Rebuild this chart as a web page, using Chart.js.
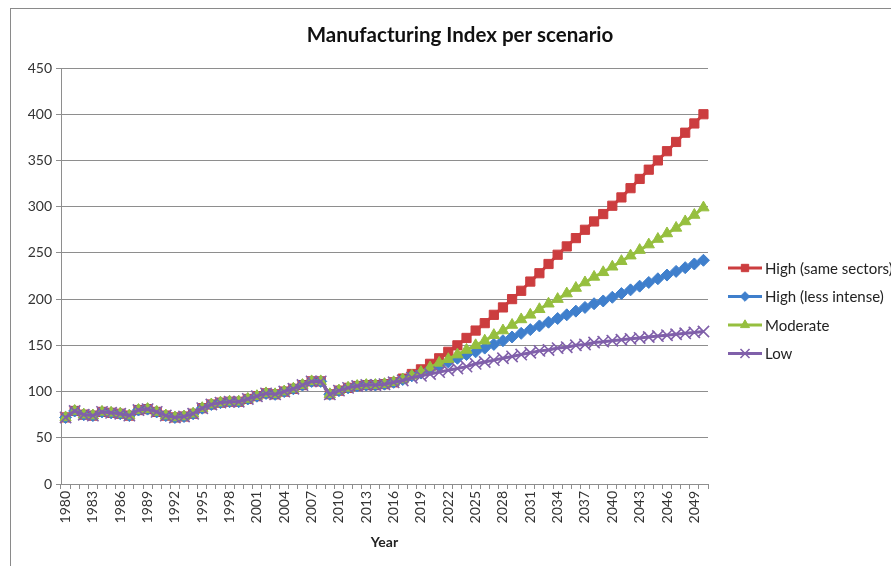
<!DOCTYPE html>
<html>
<head>
<meta charset="utf-8">
<script src="https://cdn.jsdelivr.net/npm/chart.js@4.4.0/dist/chart.umd.min.js"></script>
<style>
html, body { margin: 0; padding: 0; background: #fff; }
#wrap { position: relative; width: 891px; height: 566px; overflow: hidden; }
#frame { position: absolute; left: 10px; top: 8px; width: 900px; height: 600px; border: 1px solid #8a8a8a; box-sizing: border-box; }
canvas { position: absolute; left: 0; top: 0; }
</style>
</head>
<body>
<div id="wrap"><div id="frame"></div><canvas id="myChart" width="891" height="566"></canvas></div>
<script>
let years = ['1980', '1981', '1982', '1983', '1984', '1985', '1986', '1987', '1988', '1989',
    '1990', '1991', '1992', '1993', '1994', '1995', '1996', '1997', '1998', '1999',
    '2000', '2001', '2002', '2003', '2004', '2005', '2006', '2007', '2008', '2009',
    '2010', '2011', '2012', '2013', '2014', '2015', '2016', '2017', '2018', '2019',
    '2020', '2021', '2022', '2023', '2024', '2025', '2026', '2027', '2028', '2029',
    '2030', '2031', '2032', '2033', '2034', '2035', '2036', '2037', '2038', '2039',
    '2040', '2041', '2042', '2043', '2044', '2045', '2046', '2047', '2048', '2049', '2050'];

// 1980 - 2016, common to all scenarios
let history = [72, 79, 75, 74, 78, 77, 76, 74, 80, 81, 78, 74, 72, 73, 76, 82, 86, 88, 89, 89,
    92, 95, 98, 97, 100, 103, 107, 111, 111, 97, 101, 104, 106, 107, 107, 108, 110];

// 2017 - 2050
let highSame = [114, 119, 124, 130, 136, 143, 150, 158, 166, 174, 183, 191, 200, 209, 219, 228, 238,
    248, 257, 266, 275, 284, 292, 301, 310, 320, 330, 340, 350, 360, 370, 380, 390, 400];
let highLess = [113, 117, 120, 124, 128, 132, 136, 140, 143, 147, 151, 155, 159, 163, 167, 171, 175,
    179, 183, 187, 191, 195, 198, 202, 206, 210, 214, 218, 222, 226, 230, 234, 238, 242];
let moderate = [113, 117, 121, 126, 131, 135, 140, 145, 150, 155, 161, 166, 172, 178, 183, 189, 195,
    200, 206, 212, 218, 224, 229, 235, 241, 247, 253, 259, 265, 271, 277, 284, 291, 299];
let low = [112, 115, 117, 119, 121, 123, 125, 127, 130, 132, 134, 136, 138, 140, 142, 144, 145,
    147, 148, 150, 151, 153, 154, 155, 156, 157, 158, 159, 160, 161, 162, 163, 164, 165];

let seriesLabels = ['High (same sectors)', 'High (less intense)', 'Moderate', 'Low'];
let colors = ['#CC3D3F', '#3F7FCC', '#96BF3F', '#8060AA'];
let chartTitle = 'Manufacturing Index per scenario';

const FONT = 'Lato, "Open Sans", sans-serif';
const GRID = '#8e8e8e';

function makeSet(i, values, style, radius, bw) {
    return {
        label: seriesLabels[i],
        data: history.concat(values),
        borderColor: colors[i],
        backgroundColor: colors[i],
        borderWidth: 3,
        pointStyle: style,
        pointRadius: radius,
        pointBorderWidth: bw,
        pointBackgroundColor: colors[i],
        pointBorderColor: colors[i],
        tension: 0,
        order: 4 - i
    };
}

// title over the whole frame and legend on the right (line with marker, like the office chart)
const sideParts = {
    id: 'sideParts',
    afterDraw(chart) {
        const ctx = chart.ctx;
        ctx.save();
        ctx.fillStyle = '#111';
        ctx.font = 'bold 20.5px ' + FONT;
        ctx.textAlign = 'center';
        ctx.textBaseline = 'middle';
        ctx.fillText(chartTitle, 460, 35);
        ctx.restore();

        const x0 = chart.chartArea.right + 20;
        let y = chart.chartArea.top + 200;
        chart.data.datasets.forEach(ds => {
            ctx.save();
            ctx.strokeStyle = ds.borderColor;
            ctx.lineWidth = 3;
            ctx.beginPath();
            ctx.moveTo(x0, y);
            ctx.lineTo(x0 + 34, y);
            ctx.stroke();
            ctx.fillStyle = ds.pointBackgroundColor;
            ctx.strokeStyle = ds.pointBorderColor;
            ctx.lineWidth = ds.pointBorderWidth;
            Chart.helpers.drawPoint(ctx, {
                pointStyle: ds.pointStyle,
                radius: ds.pointRadius * 0.8,
                rotation: 0,
                borderWidth: ds.pointBorderWidth
            }, x0 + 17, y);
            ctx.fillStyle = '#222';
            ctx.font = '15px ' + FONT;
            ctx.textBaseline = 'middle';
            ctx.fillText(ds.label, x0 + 37, y + 1);
            ctx.restore();
            y += 28.5;
        });
    }
};

let ctx = document.getElementById('myChart').getContext('2d');

let chart = new Chart(ctx, {
    type: 'line',
    data: {
        labels: years,
        datasets: [
            makeSet(0, highSame, 'rect', 6.5, 1),
            makeSet(1, highLess, 'rectRot', 6, 1),
            makeSet(2, moderate, 'triangle', 6.5, 1),
            makeSet(3, low, 'crossRot', 8, 1.6)
        ]
    },
    options: {
        responsive: false,
        devicePixelRatio: 1,
        animation: false,
        layout: { padding: { left: 12, right: 183, top: 68, bottom: 0 } },
        plugins: {
            legend: { display: false },
            tooltip: { enabled: false },
            title: { display: false }
        },
        scales: {
            x: {
                type: 'category',
                offset: true,
                ticks: {
                    autoSkip: false,
                    minRotation: 90,
                    maxRotation: 90,
                    padding: 2,
                    color: '#333',
                    font: { family: FONT, size: 14 },
                    callback: function (v, i) { return i % 3 === 0 ? this.getLabelForValue(v) : ''; }
                },
                grid: { drawOnChartArea: false, offset: true, tickLength: 5, color: GRID },
                border: { color: GRID },
                title: {
                    display: true,
                    text: 'Year',
                    color: '#222',
                    font: { family: FONT, size: 14, weight: 'bold' },
                    padding: { top: 0, bottom: 15 }
                },
                afterFit(s) { s.height = 82; }
            },
            y: {
                min: 0,
                max: 450,
                ticks: { stepSize: 50, padding: 4, color: '#333', font: { family: FONT, size: 14 } },
                grid: { color: GRID, tickLength: 5 },
                border: { color: GRID },
                afterFit(s) { s.width = 49; }
            }
        }
    },
    plugins: [sideParts]
});
</script>
</body>
</html>
